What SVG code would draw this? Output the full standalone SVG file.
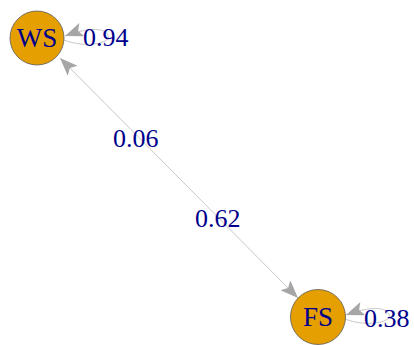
<svg xmlns="http://www.w3.org/2000/svg" width="414" height="345" viewBox="0 0 414 345">
<style>
.edge{fill:none;stroke:#C8C8C8;stroke-width:1}
.node{fill:#E69F00;stroke:#5A5A5A;stroke-width:0.8}
.nlab{font-family:"Liberation Serif",serif;font-size:27px;fill:#00008B;text-anchor:middle}
.elab{font-family:"Liberation Serif",serif;font-size:26px;fill:#00008B}
</style>
<defs>
<marker id="arr" viewBox="0 0 18 14" refX="18" refY="7" markerWidth="18" markerHeight="14" markerUnits="userSpaceOnUse" orient="auto-start-reverse">
<path d="M0,0 L18,7 L0,14 L4,7 z" fill="#A6A6A6"/>
</marker>
</defs>
<rect width="414" height="345" fill="#FFFFFF"/>
<g id="connectors">
<line class="edge" x1="60" y1="58" x2="298" y2="298" marker-start="url(#arr)" marker-end="url(#arr)"/>
<path class="edge" d="M64,40 C84,48 112,44 108,35 C104,27 86,28 65,36" marker-end="url(#arr)"/>
<path class="edge" d="M345,319 C365,327 393,323 389,314 C385,306 367,307 346,315" marker-end="url(#arr)"/>
</g>
<g id="node-WS">
<circle class="node" cx="37" cy="38" r="27"/>
<text class="nlab" x="37" y="47">WS</text>
</g>
<g id="node-FS">
<circle class="node" cx="318" cy="317" r="27.5"/>
<text class="nlab" x="318" y="326">FS</text>
</g>
<g id="edge-labels">
<text class="elab" x="83" y="46">0.94</text>
<text class="elab" x="113" y="147">0.06</text>
<text class="elab" x="195" y="227">0.62</text>
<text class="elab" x="364" y="327">0.38</text>
</g>
</svg>
